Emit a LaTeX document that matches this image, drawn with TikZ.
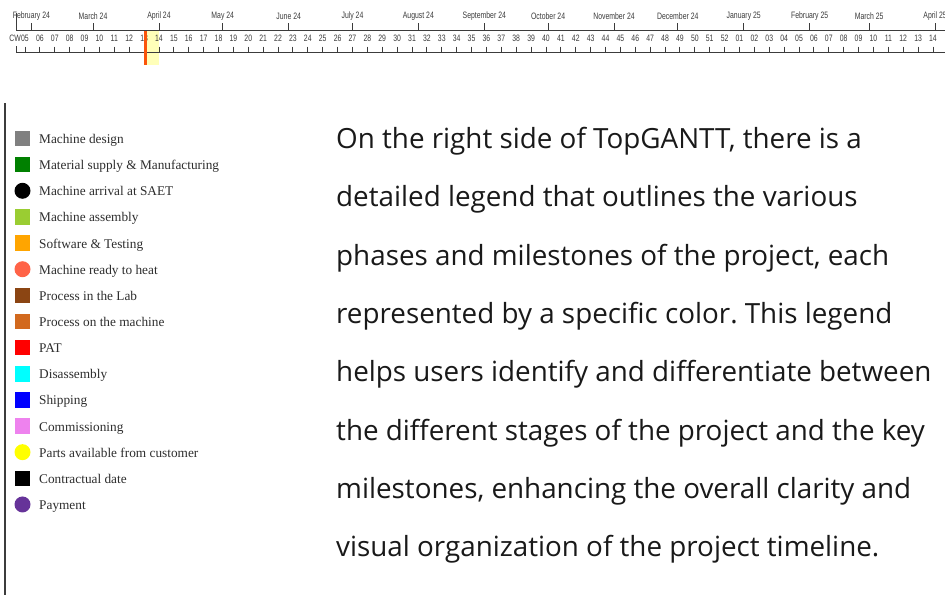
\documentclass[tikz,border=0pt]{standalone}
\usepackage{fontspec}
\setmainfont{Liberation Serif}
\newfontfamily\axisfont{Liberation Sans}
\newfontfamily\bodyfont{Open Sans}
\frenchspacing

\definecolor{axisgray}{RGB}{60,60,60}
\definecolor{axistext}{RGB}{60,60,60}
\definecolor{hlyellow}{RGB}{255,255,185}
\definecolor{todayline}{RGB}{250,85,10}
\definecolor{legtext}{RGB}{45,45,45}
\definecolor{bartext}{RGB}{25,25,25}
\definecolor{cDesign}{RGB}{128,128,128}
\definecolor{cSupply}{RGB}{0,128,0}
\definecolor{cArrival}{RGB}{0,0,0}
\definecolor{cAssembly}{RGB}{154,205,50}
\definecolor{cSoftware}{RGB}{255,165,0}
\definecolor{cReady}{RGB}{255,99,71}
\definecolor{cLab}{RGB}{139,69,19}
\definecolor{cMachine}{RGB}{210,105,30}
\definecolor{cPAT}{RGB}{255,0,0}
\definecolor{cDisassembly}{RGB}{0,255,255}
\definecolor{cShipping}{RGB}{0,0,255}
\definecolor{cCommission}{RGB}{238,130,238}
\definecolor{cParts}{RGB}{255,255,0}
\definecolor{cContract}{RGB}{0,0,0}
\definecolor{cPayment}{RGB}{102,51,153}

\tikzset{
  axisline/.style={draw=axisgray, line width=0.9pt},
  weeklbl/.style={inner sep=0pt, text=axistext, font=\axisfont\fontsize{9.3}{9.3}\selectfont},
  monthlbl/.style={inner sep=0pt, text=axistext, font=\axisfont\fontsize{9.3}{9.3}\selectfont},
  sqmark/.style={rectangle, minimum size=15.5pt, inner sep=0pt},
  dotmark/.style={circle, minimum size=16pt, inner sep=0pt},
  legitem/.style={anchor=base west, inner sep=0pt, text=legtext, font=\fontsize{13.3}{14}\selectfont},
  bodyline/.style={anchor=base west, inner sep=0pt, text=bartext, font=\bodyfont\fontsize{27.8}{33}\selectfont},
}

\begin{document}
\begin{tikzpicture}[x=1pt, y=-1pt]
\useasboundingbox (0,0) rectangle (945,595);
\fill[white] (0,0) rectangle (945,595);

% current-week highlight
\fill[hlyellow] (146.5,31) rectangle (159,65);

% month axis
\draw[axisline] (16,30) -- (945,30);
\draw[axisline] (16,13) -- (16,30);
\foreach \d/\m in {3/February 24, 32/March 24, 63/April 24, 93/May 24,
                   124/June 24, 154/July 24, 185/August 24, 216/September 24,
                   246/October 24, 277/November 24, 307/December 24,
                   338/January 25, 369/February 25, 397/March 25, 428/April 25}{
  \pgfmathsetmacro\xx{25+\d*14.885/7}
  \draw[axisline] (\xx,23) -- (\xx,30);
  \node[monthlbl] at (\xx,16.5) {\scalebox{0.74}[1]{\m}};
}

% calendar-week axis
\draw[axisline] (16,52) -- (945,52);
\draw[axisline] (16,46) -- (16,52);
\foreach \i in {0,...,61}{
  \pgfmathtruncatemacro\wk{mod(\i+4,52)+1}
  \pgfmathsetmacro\xx{25+\i*14.885}
  \draw[axisline] (\xx,46.5) -- (\xx,52);
  \node[weeklbl] (w\i) at (\xx,38.5) {\scalebox{0.74}[1]{\ifnum\wk<10 0\fi\wk}};
}
\node[weeklbl, anchor=east] at (w0.west) {\scalebox{0.74}[1]{CW}};

% today marker
\draw[todayline, line width=2.4pt] (145.3,31) -- (145.3,65);

% legend frame
\draw[draw=axisgray, line width=1.8pt] (5,103) -- (5,595);

% legend entries
\foreach \i/\shape/\col/\txt in {
   0/sqmark/cDesign/Machine design,
   1/sqmark/cSupply/Material supply \& Manufacturing,
   2/dotmark/cArrival/Machine arrival at SAET,
   3/sqmark/cAssembly/Machine assembly,
   4/sqmark/cSoftware/Software \& Testing,
   5/dotmark/cReady/Machine ready to heat,
   6/sqmark/cLab/Process in the Lab,
   7/sqmark/cMachine/Process on the machine,
   8/sqmark/cPAT/PAT,
   9/sqmark/cDisassembly/Disassembly,
  10/sqmark/cShipping/Shipping,
  11/sqmark/cCommission/Commissioning,
  12/dotmark/cParts/Parts available from customer,
  13/sqmark/cContract/Contractual date,
  14/dotmark/cPayment/Payment}{
  \pgfmathsetmacro\yy{138.5+\i*26.14}
  \node[\shape, fill=\col] (mk\i) at (22.5,\yy) {};
  \node[legitem] (lt\i) at (39,\yy+5) {\txt};
}

% description
\foreach \k/\line in {
  0/On the right side of TopGANTT{,} there is a,
  1/detailed legend that outlines the various,
  2/phases and milestones of the project{,} each,
  3/represented by a specific color. This legend,
  4/helps users identify and differentiate between,
  5/the different stages of the project and the key,
  6/milestones{,} enhancing the overall clarity and,
  7/visual organization of the project timeline.}{
  \pgfmathsetmacro\yy{148.5+\k*58.3}
  \node[bodyline] (d\k) at (336,\yy) {\line};
}
\end{tikzpicture}
\end{document}
